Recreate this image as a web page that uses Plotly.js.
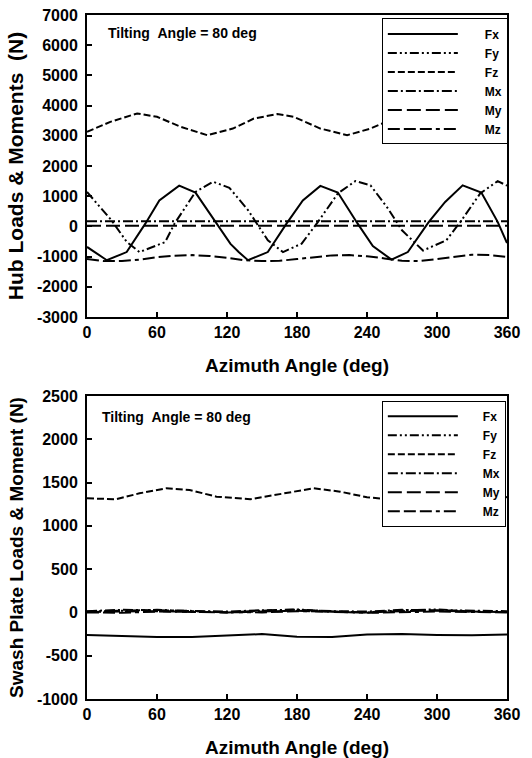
<!DOCTYPE html>
<html>
<head>
<meta charset="utf-8">
<script src="https://cdn.plot.ly/plotly-3.0.1.min.js"></script>
<style>html,body{margin:0;padding:0;background:#fff;}#chart{width:532px;height:758px;}</style>
</head>
<body>
<div id="chart"></div>
<script>
// ---------- data ----------
const seriesNames = ['Fx', 'Fy', 'Fz', 'Mx', 'My', 'Mz'];

// Hub loads & moments (top panel)
const hubFxAz = [0, 17, 34, 50, 62, 79, 93, 111, 123, 130, 138, 155, 171, 185, 200, 215, 232, 245, 261, 275, 293, 307, 322, 338, 352, 360];
const hubFx   = [-680, -1120, -850, 90, 860, 1350, 1120, 100, -580, -850, -1120, -850, 90, 860, 1340, 1120, 90, -650, -1100, -850, 150, 810, 1360, 1120, 150, -550];
const hubFyAz = [0, 21, 34, 45, 67, 75, 93, 108, 122, 138, 155, 168, 184, 198, 215, 230, 243, 258, 270, 288, 308, 321, 337, 352, 360];
const hubFy   = [1140, 200, -510, -850, -520, 90, 1140, 1480, 1280, 540, -460, -850, -570, 150, 1090, 1500, 1360, 590, -130, -800, -460, 200, 1090, 1500, 1350];
const hubFzAz = [0, 20, 43, 60, 80, 103, 125, 143, 163, 177, 200, 223, 243, 263, 283, 300, 320, 343, 360];
const hubFz   = [3130, 3460, 3740, 3630, 3300, 3020, 3240, 3570, 3720, 3630, 3240, 3020, 3240, 3570, 3720, 3630, 3300, 3020, 3150];
const hubMxAz = [0, 60, 120, 180, 240, 300, 360];
const hubMx   = [170, 175, 170, 170, 175, 170, 170];
const hubMyAz = [0, 60, 120, 180, 240, 300, 360];
const hubMy   = [20, 15, 20, 20, 15, 20, 20];
const hubMzAz = [0, 15, 30, 45, 60, 75, 90, 105, 120, 135, 150, 165, 180, 195, 210, 225, 240, 255, 270, 285, 300, 315, 330, 345, 360];
const hubMz   = [-1080, -1150, -1150, -1100, -1020, -970, -950, -980, -1040, -1120, -1150, -1140, -1080, -1010, -960, -950, -990, -1060, -1140, -1150, -1080, -1000, -940, -950, -1010];

// Swash plate loads & moment (bottom panel)
const swFxAz = [0, 30, 60, 90, 120, 150, 180, 210, 240, 270, 300, 330, 360];
const swFx   = [-260, -270, -285, -285, -265, -250, -280, -285, -255, -250, -260, -265, -255];
const swFyAz = [0, 30, 60, 90, 120, 150, 180, 210, 240, 270, 300, 330, 360];
const swFy   = [10, 20, 30, 15, 0, 20, 35, 10, 0, 25, 35, 10, 5];
const swFzAz = [0, 25, 45, 68, 88, 111, 140, 168, 194, 217, 240, 260, 285, 312, 335, 360];
const swFz   = [1318, 1307, 1376, 1434, 1414, 1337, 1307, 1376, 1434, 1395, 1330, 1307, 1376, 1434, 1395, 1330];
const swMxAz = [0, 30, 60, 90, 120, 150, 180, 210, 240, 270, 300, 330, 360];
const swMx   = [15, 30, 25, 20, 10, 25, 30, 15, 10, 30, 25, 20, 15];
const swMyAz = [0, 30, 60, 90, 120, 150, 180, 210, 240, 270, 300, 330, 360];
const swMy   = [5, 10, 15, 5, 0, 10, 20, 5, 0, 15, 20, 10, 5];
const swMzAz = [0, 30, 60, 90, 120, 150, 180, 210, 240, 270, 300, 330, 360];
const swMz   = [0, -5, 10, 5, 0, 0, 15, 10, -5, 0, 10, 5, 0];

// tick labels
const azTickVals  = [0, 60, 120, 180, 240, 300, 360];
const azTickText  = ['0', '60', '120', '180', '240', '300', '360'];
const hubTickVals = [-3000, -2000, -1000, 0, 1000, 2000, 3000, 4000, 5000, 6000, 7000];
const hubTickText = ['-3000', '-2000', '-1000', '0', '1000', '2000', '3000', '4000', '5000', '6000', '7000'];
const swTickVals  = [-1000, -500, 0, 500, 1000, 1500, 2000, 2500];
const swTickText  = ['-1000', '-500', '0', '500', '1000', '1500', '2000', '2500'];

const annotationText = 'Tilting\u00a0\u00a0Angle = 80 deg';
const hubTitle = 'Hub Loads & Moments\u00a0\u00a0(N)';
const swTitle  = 'Swash Plate Loads & Moment (N)';
const azTitle  = 'Azimuth Angle (deg)';

// ---------- styling ----------
const dashes = {
  Fx: 'solid',
  Fy: '9px,3px,2px,3px,2px,3px',
  Fz: '7px,3px',
  Mx: '10px,3px,2px,3px',
  My: '14px,5px',
  Mz: '12px,4px,12px,4px,12px,4px,4px,4px'
};
const FONT = 'Liberation Sans, Arial, sans-serif';

function mk(name, x, y, xa, ya, lg) {
  return {
    type: 'scatter', mode: 'lines', name: name, x: x, y: y,
    xaxis: xa, yaxis: ya, legend: lg, showlegend: true,
    line: {color: '#000', width: 2, dash: dashes[name]}
  };
}

const traces = [
  mk('Fx', hubFxAz, hubFx, 'x', 'y', 'legend'),
  mk('Fy', hubFyAz, hubFy, 'x', 'y', 'legend'),
  mk('Fz', hubFzAz, hubFz, 'x', 'y', 'legend'),
  mk('Mx', hubMxAz, hubMx, 'x', 'y', 'legend'),
  mk('My', hubMyAz, hubMy, 'x', 'y', 'legend'),
  mk('Mz', hubMzAz, hubMz, 'x', 'y', 'legend'),
  mk('Fx', swFxAz, swFx, 'x2', 'y2', 'legend2'),
  mk('Fy', swFyAz, swFy, 'x2', 'y2', 'legend2'),
  mk('Fz', swFzAz, swFz, 'x2', 'y2', 'legend2'),
  mk('Mx', swMxAz, swMx, 'x2', 'y2', 'legend2'),
  mk('My', swMyAz, swMy, 'x2', 'y2', 'legend2'),
  mk('Mz', swMzAz, swMz, 'x2', 'y2', 'legend2')
];

const tickFont = {family: FONT, size: 16, color: '#000', weight: 'bold'};
function xAx(anchor) {
  return {
    anchor: anchor, domain: [0, 1], range: [0, 360],
    tickmode: 'array', tickvals: azTickVals, ticktext: azTickText,
    ticks: 'inside', ticklen: 5, tickwidth: 2, tickcolor: '#000',
    showline: true, linecolor: '#000', linewidth: 2, mirror: true,
    showgrid: false, zeroline: false, tickfont: tickFont,
    title: {text: azTitle, font: {family: FONT, size: 19, color: '#000', weight: 'bold'}, standoff: 19}
  };
}
function yAx(anchor, dom, rng, tv, tt, title, tsize) {
  return {
    anchor: anchor, domain: dom, range: rng,
    tickmode: 'array', tickvals: tv, ticktext: tt,
    ticks: 'inside', ticklen: 5, tickwidth: 2, tickcolor: '#000',
    showline: true, linecolor: '#000', linewidth: 2, mirror: true,
    showgrid: false, zeroline: false, tickfont: tickFont, ticklabelstandoff: 4,
    title: {text: title, font: {family: FONT, size: tsize, color: '#000', weight: 'bold'}, standoff: 8}
  };
}
const legFont = {family: FONT, size: 12, color: '#000', weight: 'bold'};

const layout = {
  width: 532, height: 758,
  margin: {l: 87, r: 25, t: 15, b: 59},
  paper_bgcolor: '#fff', plot_bgcolor: '#fff',
  font: {family: FONT, color: '#000'},
  xaxis: xAx('y'),
  yaxis: yAx('x', [0.5585, 1], [-3000, 7000], hubTickVals, hubTickText, hubTitle, 21),
  xaxis2: xAx('y2'),
  yaxis2: yAx('x2', [0, 0.443], [-1000, 2500], swTickVals, swTickText, swTitle, 19),
  legend: {
    x: 0.702, y: 0.995, xanchor: 'left', yanchor: 'top', xref: 'paper', yref: 'paper',
    bgcolor: '#fff', bordercolor: '#000', borderwidth: 1, font: legFont,
    itemwidth: 92, tracegroupgap: 0
  },
  legend2: {
    x: 0.702, y: 0.436, xanchor: 'left', yanchor: 'top', xref: 'paper', yref: 'paper',
    bgcolor: '#fff', bordercolor: '#000', borderwidth: 1, font: legFont,
    itemwidth: 90, tracegroupgap: 0
  },
  annotations: [
    {xref: 'x', yref: 'y', x: 16, y: 6420, text: annotationText, showarrow: false, xanchor: 'left', yanchor: 'middle',
     font: {family: FONT, size: 14, color: '#000', weight: 'bold'}},
    {xref: 'x2', yref: 'y2', x: 11, y: 2257, text: annotationText, showarrow: false, xanchor: 'left', yanchor: 'middle',
     font: {family: FONT, size: 14, color: '#000', weight: 'bold'}}
  ]
};

Plotly.newPlot('chart', traces, layout, {staticPlot: true, displayModeBar: false}).then(function (gd) {
  // lengthen the legend line samples to match the reference key
  gd.querySelectorAll('.legendlines path').forEach(function (p) {
    p.setAttribute('d', 'M5,0h70');
  });
});
</script>
</body>
</html>
